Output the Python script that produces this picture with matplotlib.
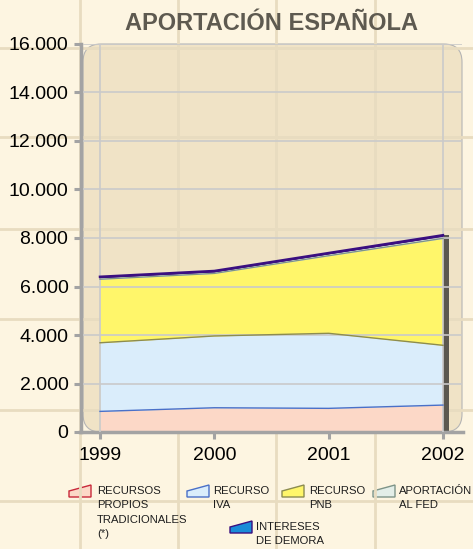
import matplotlib.pyplot as plt
import numpy as np
from matplotlib.patches import FancyBboxPatch, Polygon
from matplotlib.ticker import FuncFormatter

years = [1999, 2000, 2001, 2002]
recursos_propios = [850, 1000, 975, 1110]
recurso_iva = [2830, 2960, 3095, 2465]
recurso_pnb = [2620, 2580, 3200, 4410]
aportacion_fed = [70, 70, 80, 90]
intereses_demora = [30, 30, 30, 40]

series_labels = ['RECURSOS\nPROPIOS\nTRADICIONALES\n(*)', 'RECURSO\nIVA',
                 'RECURSO\nPNB', 'APORTACIÓN\nAL FED', 'INTERESES\nDE DEMORA']
fill_colors = ['#FCD8C7', '#DAEDFB', '#FFF66A', '#E3EEE8', '#1A8CD8']
edge_colors = ['#C8283A', '#4A70C8', '#8C8C50', '#7E9488', '#3A0F80']

plt.rcParams['font.family'] = ['Liberation Sans', 'DejaVu Sans']

W, H = 473, 549
fig = plt.figure(figsize=(W / 100, H / 100), dpi=100)
fig.patch.set_facecolor('#FDF5E1')

# background layer in pixel units (page grid, rounded panel, legend)
bg = fig.add_axes([0, 0, 1, 1], zorder=0)
bg.set_xlim(0, W)
bg.set_ylim(H, 0)
bg.axis('off')
for gx in [80, 178, 276, 375]:
    bg.plot([gx, gx], [0, H], color='#E8DCC0', lw=2)
for gy in [48, 137, 229, 319, 410, 501]:
    bg.plot([0, W], [gy, gy], color='#E8DCC0', lw=2)
bg.add_patch(FancyBboxPatch((83, 44), 379, 388,
                            boxstyle='round,pad=0,rounding_size=18',
                            facecolor='#F0E3C6', edgecolor='#B5B5B5', lw=0.8))

bg.text(271, 24, 'APORTACIÓN ESPAÑOLA', ha='center', va='center',
        fontsize=17, fontweight='bold', color='#5E5A50')

# legend
legend_pos = [(69, 497, 97, 486), (187, 497, 213, 486), (282, 497, 309, 486),
              (373, 497, 399, 486), (230, 533, 256, 522)]
for (mx, my, tx, ty), lab, fc, ec in zip(legend_pos, series_labels, fill_colors, edge_colors):
    bg.add_patch(Polygon([(mx, my), (mx, my - 6), (mx + 22, my - 12), (mx + 22, my)],
                         closed=True, facecolor=fc, edgecolor=ec, lw=1.0))
    bg.text(tx, ty, lab, ha='left', va='top', fontsize=8.1, linespacing=1.55,
            color='#1E1E1E')

# main chart
ax = fig.add_axes([83 / W, (H - 432) / H, 379 / W, 388 / H], zorder=1)
ax.patch.set_alpha(0)
px = 343 / 3
ax.set_xlim(1999 - 17 / px, 2002 + 19 / px)
ax.set_ylim(0, 16000)

layers = [recursos_propios, recurso_iva, recurso_pnb, aportacion_fed, intereses_demora]
cum = np.cumsum(np.array(layers), axis=0)
base = np.zeros(len(years))
for i, top in enumerate(cum):
    ax.fill_between(years, base, top, color=fill_colors[i] if i < 4 else edge_colors[4],
                    lw=0, zorder=1)
    base = top
for i, top in enumerate(cum):
    ax.plot(years, top, color=edge_colors[min(i + 1, 4)], lw=1.0 if i < 4 else 1.8, zorder=4)

# 3D side face at the last year
ax.fill_between([years[-1], years[-1] + 6 / px], 0, cum[-1][-1],
                color='#5B5850', lw=0, zorder=2)

# inner grid
yticks = list(range(0, 16001, 2000))
for yt in yticks[1:]:
    ax.axhline(yt, color='#CACACA', lw=1.2, zorder=3)
for xv in [years[0], years[-1]]:
    ax.axvline(xv, color='#CACACA', lw=1.2, zorder=3)

for s in ['top', 'right']:
    ax.spines[s].set_visible(False)
ax.spines['left'].set_position(('outward', 1.5))
ax.spines['left'].set_color('#A3A3A3')
ax.spines['left'].set_linewidth(2.5)
ax.spines['bottom'].set_color('#A3A3A3')
ax.spines['bottom'].set_linewidth(2.5)
ax.spines['bottom'].set_bounds(1999 - 20 / px, 2002 + 20 / px)

ax.set_yticks(yticks)
ax.yaxis.set_major_formatter(FuncFormatter(lambda v, p: f'{int(v):,}'.replace(',', '.')))
ax.set_xticks(years)
ax.tick_params(axis='y', length=5, width=2.2, color='#A3A3A3', labelsize=14, pad=4)
ax.tick_params(axis='x', length=5, width=2.2, color='#A3A3A3', labelsize=14, pad=6)

fig.savefig('out.png', dpi=100, facecolor=fig.get_facecolor())
